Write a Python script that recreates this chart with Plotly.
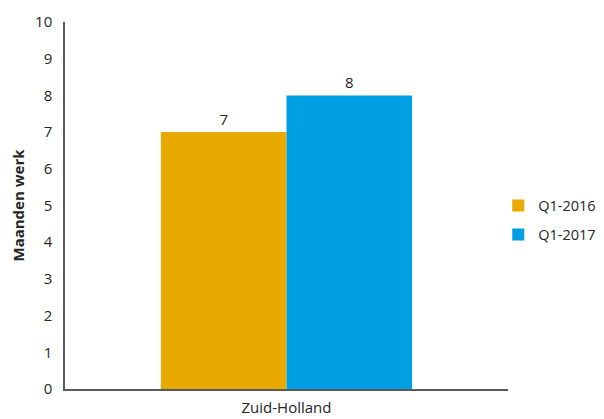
import plotly.graph_objects as go

categories = ["Zuid-Holland"]
series_names = ["Q1-2016", "Q1-2017"]
values_2016 = [7]
values_2017 = [8]
colors = ["#E8AA00", "#009FE3"]

fig = go.Figure()
for name, vals, col in zip(series_names, [values_2016, values_2017], colors):
    fig.add_trace(go.Bar(
        x=categories, y=vals, name=name, legendgroup=name,
        marker_color=col, marker_line_width=0,
        text=[str(v) for v in vals], textposition="outside",
        textfont=dict(size=15, color="#262626"), cliponaxis=False,
    ))

fig.update_layout(
    width=596, height=411,
    margin=dict(l=57, r=96, t=14, b=30, autoexpand=False),
    paper_bgcolor="white", plot_bgcolor="white",
    barmode="group", bargap=0.433, bargroupgap=0,
    font=dict(family="Open Sans, Liberation Sans, sans-serif", size=15, color="#262626"),
    showlegend=True,
    legend=dict(x=0.978, y=0.46, xanchor="left", yanchor="middle", traceorder="grouped",
                bgcolor="rgba(0,0,0,0)",
                font=dict(size=14.5), itemwidth=30, tracegroupgap=7),
    xaxis=dict(showline=True, linecolor="#595959", linewidth=1.5, ticks="", automargin=False,
               showgrid=False, tickfont=dict(size=15), ticklabelstandoff=4),
    yaxis=dict(range=[0, 10], dtick=1, showline=True, linecolor="#595959", linewidth=1.5,
               ticks="", showgrid=False, zeroline=False, tickfont=dict(size=15), automargin=False,
               ticklabelstandoff=8,
               title=dict(text="<b>Maanden werk</b>", font=dict(size=15), standoff=10)),
)

fig.write_html("out.html")
